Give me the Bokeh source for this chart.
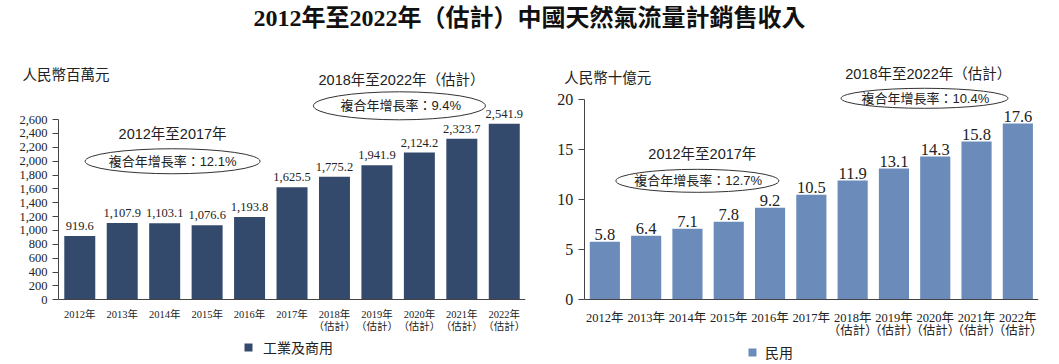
from bokeh.plotting import figure
from bokeh.models import (ColumnDataSource, Range1d, LabelSet, Label,
                          Legend, LegendItem, FixedTicker, Div, NumeralTickFormatter)
from bokeh.layouts import column, row
from bokeh.embed import file_html
from bokeh.resources import INLINE
from bokeh.core.properties import value

# ---------------- data ----------------
years = ["2012年", "2013年", "2014年", "2015年", "2016年", "2017年",
         "2018年\n（估計）", "2019年\n（估計）", "2020年\n（估計）",
         "2021年\n（估計）", "2022年\n（估計）"]
industrial = [919.6, 1107.9, 1103.1, 1076.6, 1193.8, 1625.5,
              1775.2, 1941.9, 2124.2, 2323.7, 2541.9]
residential = [5.8, 6.4, 7.1, 7.8, 9.2, 10.5, 11.9, 13.1, 14.3, 15.8, 17.6]
left_ticks = [0, 200, 400, 600, 800, 1000, 1200, 1400, 1600, 1800, 2000, 2200, 2400, 2600]
right_ticks = [0, 5, 10, 15, 20]

title_text = "2012年至2022年（估計）中國天然氣流量計銷售收入"
left_unit = "人民幣百萬元"
right_unit = "人民幣十億元"
left_series = "工業及商用"
right_series = "民用"
period1 = "2012年至2017年"
period2 = "2018年至2022年（估計）"
left_cagr = ["複合年增長率：12.1%", "複合年增長率：9.4%"]
right_cagr = ["複合年增長率：12.7%", "複合年增長率：10.4%"]

# ---------------- style ----------------
SERIF = "Liberation Serif, Noto Sans CJK TC"
SANS = "Liberation Sans, Noto Sans CJK TC"
CJK = "Noto Sans CJK TC"
DARK = "#344a6d"
LIGHT = "#6b8cbb"
TXT = "#222222"
AX = "#444444"

idx = list(range(len(years)))
n = len(years)


def base_fig(width, x_start, y_start, y_end, y_top):
    p = figure(x_range=Range1d(x_start, n - 0.5), y_range=Range1d(y_start, y_end),
               width=width, height=328, output_backend="svg", toolbar_location=None,
               min_border_left=12, min_border_right=width - 12 - FRAME_W[width],
               min_border_top=0, min_border_bottom=0)
    p.margin = 0
    p.outline_line_color = None
    p.xgrid.grid_line_color = None
    p.ygrid.grid_line_color = None
    p.background_fill_color = None
    p.border_fill_color = None
    # axes drawn at the data origin, inside the frame
    p.xaxis.fixed_location = 0
    p.yaxis.fixed_location = -0.5
    p.xaxis.bounds = (-0.5, n - 0.5)
    p.yaxis.bounds = (0, y_top)
    p.xaxis.ticker = FixedTicker(ticks=idx)
    p.xaxis.major_label_overrides = {i: y for i, y in zip(idx, years)}
    p.xaxis.major_tick_line_color = None
    p.xaxis.minor_tick_line_color = None
    p.xaxis.axis_line_color = AX
    p.yaxis.axis_line_color = AX
    p.yaxis.major_tick_line_color = AX
    p.yaxis.minor_tick_line_color = None
    p.yaxis.major_tick_in = 0
    p.yaxis.major_tick_out = 6
    p.xaxis.major_label_text_font = SERIF
    p.yaxis.major_label_text_font = SERIF
    p.xaxis.major_label_text_color = TXT
    p.yaxis.major_label_text_color = TXT
    return p


def add_text(p, x, y, text, size, font=SANS, align="center"):
    p.add_layout(Label(x=x, y=y, text=text, text_font=font, text_font_size=size,
                       text_color=TXT, text_align=align, text_baseline="middle"))


def add_ellipse(p, x, y, w, h):
    p.ellipse(x=[x], y=[y], width=w, height=h, width_units="screen",
              height_units="screen", fill_color=None, line_color="#333333",
              line_width=1)


# frame widths (px) for each figure width
FRAME_W = {540: 513, 519: 486}

# ---------------- left chart ----------------
# 0 at page y 299.3, 0.0693 px per unit; frame spans page y 36..364
p1 = base_fig(540, n - 0.5 - 513 / 42.45, -933.6, 3799, 2600)
src1 = ColumnDataSource(dict(x=idx, v=industrial,
                             lab=[f"{v:,.1f}" for v in industrial]))
bars1 = p1.vbar(x="x", top="v", width=0.73, source=src1, fill_color=DARK,
                line_color=None)
p1.add_layout(LabelSet(x="x", y="v", text="lab", source=src1, text_align="center",
                       text_baseline="alphabetic", y_offset=6,
                       text_font=value(SERIF), text_font_size=value("12.5px"),
                       text_color=TXT))
p1.yaxis.ticker = FixedTicker(ticks=left_ticks)
p1.yaxis.formatter = NumeralTickFormatter(format="0,0")
p1.yaxis.major_label_text_font_size = "12.5px"
p1.yaxis.major_label_standoff = 5
p1.xaxis.major_label_text_font_size = "10.5px"
p1.xaxis.major_label_text_line_height = 1.15
p1.xaxis.major_label_standoff = 3

add_text(p1, -1.348, 3261, left_unit, "14.5px", font=CJK, align="left")
add_text(p1, 2.186, 2395, period1, "14.5px")
add_ellipse(p1, 2.186, 1999, 175, 25)
add_text(p1, 2.186, 1999, left_cagr[0], "13px")
add_text(p1, 7.58, 3175, period2, "14.5px")
add_ellipse(p1, 7.53, 2799, 172, 28)
add_text(p1, 7.56, 2799, left_cagr[1], "13px")

leg1 = Legend(items=[LegendItem(label=left_series, renderers=[bars1])],
              location=(231, 7), orientation="horizontal", padding=0, margin=0,
              border_line_color=None, background_fill_alpha=0,
              glyph_width=10, glyph_height=10, label_height=16,
              label_standoff=10, label_text_font=CJK,
              label_text_font_size="14px", label_text_color=TXT)
p1.add_layout(leg1)

# ---------------- right chart ----------------
# 0 at page y 299.3, 10.015 px per unit
p2 = base_fig(519, n - 0.5 - 486 / 41.3, -6.46, 26.29, 20)
src2 = ColumnDataSource(dict(x=idx, v=residential,
                             lab=[f"{v:.1f}" for v in residential]))
bars2 = p2.vbar(x="x", top="v", width=0.73, source=src2, fill_color=LIGHT,
                line_color=None)
p2.add_layout(LabelSet(x="x", y="v", text="lab", source=src2, text_align="center",
                       text_baseline="alphabetic", y_offset=2,
                       text_font=value(SERIF), text_font_size=value("16.5px"),
                       text_color=TXT))
p2.yaxis.ticker = FixedTicker(ticks=right_ticks)
p2.yaxis.major_label_text_font_size = "16px"
p2.yaxis.major_label_standoff = 5
p2.xaxis.major_label_text_font_size = "12.5px"
p2.xaxis.major_label_text_line_height = 0.95
p2.xaxis.major_label_standoff = 5

add_text(p2, -0.985, 22.26, right_unit, "14.5px", font=CJK, align="left")
add_text(p2, 2.36, 14.58, period1, "14.5px")
add_ellipse(p2, 2.24, 11.88, 163, 23)
add_text(p2, 2.26, 11.88, right_cagr[0], "13px")
add_text(p2, 7.83, 22.56, period2, "14.5px")
add_ellipse(p2, 7.74, 20.12, 167, 20)
add_text(p2, 7.76, 20.12, right_cagr[1], "13px")

leg2 = Legend(items=[LegendItem(label=right_series, renderers=[bars2])],
              location=(195, 2), orientation="horizontal", padding=0, margin=0,
              border_line_color=None, background_fill_alpha=0,
              glyph_width=10, glyph_height=10, label_height=16,
              label_standoff=8, label_text_font=CJK,
              label_text_font_size="14px", label_text_color=TXT)
p2.add_layout(leg2)

# ---------------- title + layout ----------------
title = Div(text=("<div style=\"width:1059px;text-align:center;font-weight:bold;"
                  "font-size:24px;line-height:36px;color:#111;"
                  "font-family:'Liberation Serif','Noto Sans CJK TC',serif;\">"
                  + title_text + "</div>"),
            width=1059, height=36, margin=0)

layout = column(title, row(p1, p2, spacing=0), spacing=0)
open("out.html", "w").write(file_html(layout, INLINE))
